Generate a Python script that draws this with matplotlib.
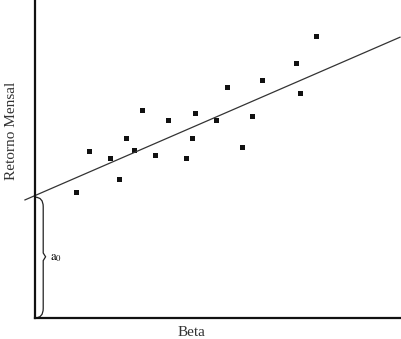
import numpy as np
import matplotlib
matplotlib.use("Agg")
import matplotlib.pyplot as plt
from matplotlib.path import Path
from matplotlib.patches import PathPatch

# data
beta = [0.223, 0.298, 0.411, 0.462, 0.500, 0.542, 0.586, 0.656, 0.730, 0.827,
        0.860, 0.877, 0.993, 1.054, 1.136, 1.187, 1.242, 1.432, 1.452, 1.538]
retorno = [3.95, 5.25, 5.02, 4.38, 5.65, 5.29, 6.54, 5.12, 6.24, 5.02,
           5.67, 6.46, 6.24, 7.26, 5.39, 6.34, 7.49, 8.01, 7.08, 8.88]
a0 = 3.85
b1 = 2.49

plt.rcParams['font.family'] = ['Liberation Serif', 'DejaVu Serif']
plt.rcParams['mathtext.fontset'] = 'stix'

fig = plt.figure(figsize=(4.01, 3.39), dpi=100)
ax = fig.add_axes([35 / 401, 21 / 339, 365 / 401, 318 / 339])
ax.set_xlim(0, 2)
ax.set_ylim(0, 10)

ax.plot(beta, retorno, 's', color='#111111', markersize=3.6, markeredgewidth=0)

xl = np.array([-0.055, 2.0])
ax.plot(xl, a0 + b1 * xl, color='#333333', lw=0.9, clip_on=False)

# chave do intercepto
x1, xt = 0.045, 0.058
mid = a0 / 2
verts = [(0, a0 - 0.05), (x1, a0 - 0.05), (x1, a0 - 0.35),
         (x1, mid + 0.12), (xt, mid), (x1, mid - 0.12),
         (x1, 0.3), (x1, 0.0), (0.0, 0.0)]
codes = [Path.MOVETO, Path.CURVE3, Path.CURVE3,
         Path.LINETO, Path.LINETO, Path.LINETO,
         Path.LINETO, Path.CURVE3, Path.CURVE3]
ax.add_patch(PathPatch(Path(verts, codes), fill=False, lw=0.9,
                       edgecolor='#222222', clip_on=False))
ax.text(0.08, mid - 0.05, r'$\mathrm{a}_0$', fontsize=9, va='center', ha='left')

for s in ['top', 'right']:
    ax.spines[s].set_visible(False)
for s in ['left', 'bottom']:
    ax.spines[s].set_linewidth(1.6)
    ax.spines[s].set_color('#111111')
ax.set_xticks([])
ax.set_yticks([])

fig.text(12 / 401, 1 - 131 / 339, 'Retorno Mensal', rotation=90,
         ha='center', va='center', fontsize=11, color='#333333')
fig.text(191 / 401, 1 - 332 / 339, 'Beta', ha='center', va='center',
         fontsize=11, color='#333333')

fig.savefig('out.png', dpi=100)
